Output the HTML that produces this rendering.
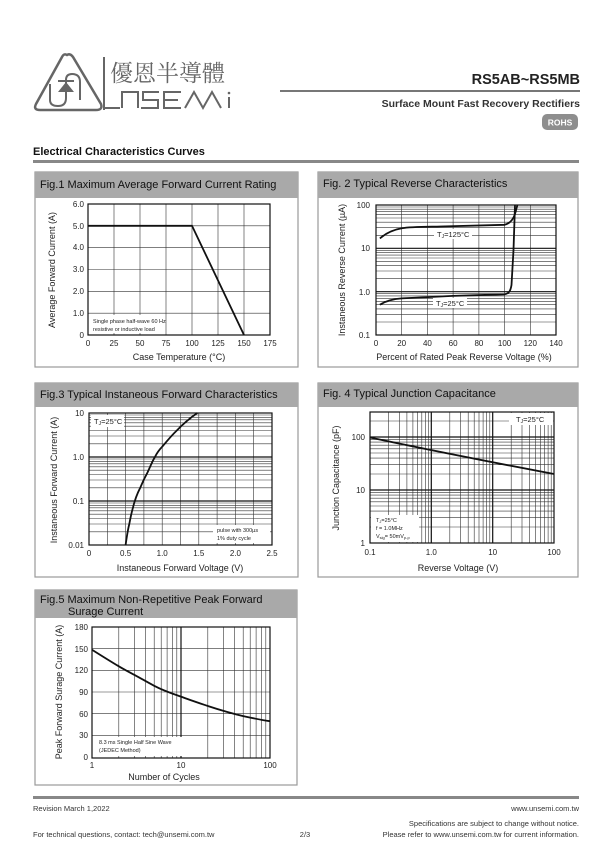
<!DOCTYPE html>
<html><head><meta charset="utf-8"><style>
html,body{margin:0;padding:0;background:#fff;}
svg{display:block;font-family:"Liberation Sans",Arial,sans-serif;}
.t{font-size:8px;fill:#222}
.ax{font-size:9px;fill:#222}
.ft{font-size:11px;fill:#111}
.g{stroke:#333;stroke-width:0.6;fill:none}
.G{stroke:#111;stroke-width:1.2;fill:none}
.c{stroke:#111;stroke-width:1.8;fill:none}
.box{fill:#fff;stroke:#9a9a9a;stroke-width:1.2}
.hd{fill:#a9a9a9}
.sm{font-size:5.5px;fill:#222}
</style></head><body>
<svg width="612" height="859" viewBox="0 0 612 859" xmlns="http://www.w3.org/2000/svg">
<path d="M67 55 Q70 53 73 57 L101 104 Q103 110 96 110 L40 110 Q33 110 36 104 L62 57 Q64 53 67 55 Z" fill="none" stroke="#666" stroke-width="2.5"/>
<path d="M50 84 L50 100 Q50 106 58 106 Q66 106 66 98 L66 80 Q66 74 72 74 Q80 74 80 82 L80 100" fill="none" stroke="#666" stroke-width="2"/>
<path d="M58 92 L74 92 L66 82 Z" fill="#666"/><path d="M58 81 L74 81" stroke="#666" stroke-width="2"/>
<path d="M104 57 L104 110" stroke="#666" stroke-width="2"/>
<text x="110" y="81" style="font-family:'Noto Serif CJK SC','Noto Sans CJK SC',serif;font-size:23px;fill:#666">優恩半導體</text>
<g fill="none" stroke="#666" stroke-width="2">
<path d="M104 108 L120 108"/>
<path d="M122 108 L122 92 L138 92 L138 108"/>
<path d="M159 92 L143 92 L143 100 L158 100 L158 108 L141 108"/>
<path d="M181 92 L164 92 L164 108 L181 108 M164 100 L178 100"/>
<path d="M185 108 L194 92 L203 108 L212 92 L221 108"/>
<path d="M229 97 L229 108"/>
</g>
<circle cx="229" cy="93" r="1.3" fill="#666"/>
<text x="580" y="84" text-anchor="end" style="font-size:14.5px;font-weight:bold;fill:#222">RS5AB~RS5MB</text>
<rect x="280" y="90" width="300" height="2" fill="#777"/>
<text x="580" y="107" text-anchor="end" style="font-size:10.5px;font-weight:bold;fill:#333">Surface Mount Fast Recovery Rectifiers</text>
<rect x="542" y="114" width="36" height="16" rx="5" fill="#8e8e8e"/>
<text x="560" y="125.5" text-anchor="middle" style="font-size:8.5px;font-weight:bold;fill:#fff">ROHS</text>
<text x="33" y="155" style="font-size:11px;font-weight:bold;fill:#111">Electrical Characteristics Curves</text>
<rect x="33" y="160" width="546" height="3" fill="#888"/>

<rect class="box" x="35" y="172" width="263" height="195"/>
<rect class="hd" x="35" y="172" width="263" height="26"/>
<text class="ft" x="40" y="188">Fig.1 Maximum Average Forward Current Rating</text>
<g class="g"><path d="M114 204V335M140 204V335M166 204V335M192 204V335M218 204V335M244 204V335M88 225.8H270M88 247.7H270M88 269.5H270M88 291.3H270M88 313.2H270"/></g>
<rect x="88" y="204" width="182" height="131" class="G"/>
<rect x="90" y="315" width="62" height="18" fill="#fff"/>
<text class="sm" x="93" y="323">Single phase half-wave 60 Hz</text>
<text class="sm" x="93" y="331">resistive or inductive load</text>
<path class="c" d="M88 225.8 L192 225.8 L244 335"/>
<g class="t" text-anchor="end"><text x="84" y="207">6.0</text><text x="84" y="229">5.0</text><text x="84" y="250">4.0</text><text x="84" y="272">3.0</text><text x="84" y="294">2.0</text><text x="84" y="316">1.0</text><text x="84" y="338">0</text></g>
<g class="t" text-anchor="middle"><text x="88" y="346">0</text><text x="114" y="346">25</text><text x="140" y="346">50</text><text x="166" y="346">75</text><text x="192" y="346">100</text><text x="218" y="346">125</text><text x="244" y="346">150</text><text x="270" y="346">175</text></g>
<text class="ax" x="179" y="360" text-anchor="middle">Case Temperature (°C)</text>
<text class="ax" transform="translate(55,270) rotate(-90)" text-anchor="middle">Average Forward Current  (A)</text>

<rect class="box" x="318" y="172" width="260" height="195"/>
<rect class="hd" x="318" y="172" width="260" height="26"/>
<text class="ft" x="323" y="187">Fig. 2 Typical Reverse Characteristics</text>
<g class="g"><path d="M401.7 205V335M427.4 205V335M453.1 205V335M478.9 205V335M504.6 205V335M530.3 205V335
M376 322H556M376 314.3H556M376 308.9H556M376 304.7H556M376 301.3H556M376 298.4H556M376 295.9H556M376 293.7H556
M376 278.7H556M376 271H556M376 265.6H556M376 261.4H556M376 258H556M376 255.1H556M376 252.6H556M376 250.4H556
M376 235.3H556M376 227.6H556M376 222.2H556M376 218H556M376 214.6H556M376 211.7H556M376 209.2H556M376 207H556"/></g>
<path class="G" d="M376 291.7H556M376 248.3H556"/>
<rect x="376" y="205" width="180" height="130" class="G"/>
<path class="c" d="M379.9 238.4 C385 234 392 230 401.7 228.3 S430 226.8 440.3 226.5 L504.6 224.8 C510 223.5 513 220 515 214 L517.4 205"/>
<path class="c" d="M379.9 304.7 C386 301 393 299 401.7 298.4 L453.1 295.9 L504.6 294.3 C509 293.5 510.5 291 511.5 285 L513.5 250 L515 205"/>
<rect x="434" y="229" width="38" height="10" fill="#fff"/>
<text x="437" y="237" style="font-size:7.5px;fill:#222">T<tspan font-size="5" dy="1">J</tspan><tspan dy="-1">=125°C</tspan></text>
<rect x="433" y="298" width="34" height="10" fill="#fff"/>
<text x="436" y="306" style="font-size:7.5px;fill:#222">T<tspan font-size="5" dy="1">J</tspan><tspan dy="-1">=25°C</tspan></text>
<g class="t" text-anchor="end"><text x="370" y="208">100</text><text x="370" y="251">10</text><text x="370" y="295">1.0</text><text x="370" y="338">0.1</text></g>
<g class="t" text-anchor="middle"><text x="376" y="346">0</text><text x="401.7" y="346">20</text><text x="427.4" y="346">40</text><text x="453.1" y="346">60</text><text x="478.9" y="346">80</text><text x="504.6" y="346">100</text><text x="530.3" y="346">120</text><text x="556" y="346">140</text></g>
<text class="ax" x="464" y="360" text-anchor="middle">Percent of Rated  Peak Reverse Voltage (%)</text>
<text class="ax" transform="translate(345,270) rotate(-90)" text-anchor="middle">Instaneous Reverse Current (µA)</text>

<rect class="box" x="35" y="383" width="263" height="194"/>
<rect class="hd" x="35" y="383" width="263" height="24"/>
<text class="ft" x="40" y="398">Fig.3 Typical Instaneous Forward Characteristics</text>
<g class="g"><path d="M107.3 413V545M125.6 413V545M143.9 413V545M162.2 413V545M180.5 413V545M198.8 413V545M217.1 413V545M235.4 413V545M253.7 413V545
M89 531.8H272M89 524H272M89 518.5H272M89 514.2H272M89 510.8H272M89 507.8H272M89 505.3H272M89 503H272
M89 487.8H272M89 480H272M89 474.5H272M89 470.2H272M89 466.8H272M89 463.8H272M89 461.3H272M89 459H272
M89 443.8H272M89 436H272M89 430.5H272M89 426.2H272M89 422.8H272M89 419.8H272M89 417.3H272M89 415H272"/></g>
<path class="G" d="M89 457H272M89 501H272"/>
<rect x="89" y="413" width="183" height="132" class="G"/>
<rect x="91" y="415" width="33" height="12" fill="#fff"/>
<text x="94" y="424" style="font-size:7.5px;fill:#222">T<tspan font-size="5" dy="1">J</tspan><tspan dy="-1">=25°C</tspan></text>
<rect x="213" y="525" width="57" height="18" fill="#fff"/>
<text class="sm" x="217" y="532">pulse with 300µs</text>
<text class="sm" x="217" y="540">1% duty cycle</text>
<path class="c" d="M125.6 545 C127 535 128 529 129.3 524 C131 515 132 511 132.9 507.8 C135 499 137 494 140.2 487.8 C143 481 145 477 147.6 472.3 C150 467 152 462 154.9 457 C157 453 159 450 162.2 446.8 C167 441 171 436 176.8 430.5 C184 423 190 418 197.3 413"/>
<g class="t" text-anchor="end"><text x="84" y="416">10</text><text x="84" y="460">1.0</text><text x="84" y="504">0.1</text><text x="84" y="548">0.01</text></g>
<g class="t" text-anchor="middle"><text x="89" y="556">0</text><text x="125.6" y="556">0.5</text><text x="162.2" y="556">1.0</text><text x="198.8" y="556">1.5</text><text x="235.4" y="556">2.0</text><text x="272" y="556">2.5</text></g>
<text class="ax" x="180" y="571" text-anchor="middle">Instaneous Forward Voltage (V)</text>
<text class="ax" transform="translate(57,480) rotate(-90)" text-anchor="middle">Instaneous Forward Current (A)</text>

<rect class="box" x="318" y="383" width="260" height="194"/>
<rect class="hd" x="318" y="383" width="260" height="24"/>
<text class="ft" x="323" y="397">Fig. 4 Typical Junction Capacitance</text>
<g class="g"><path d="M388.5 412V543M399.3 412V543M406.9 412V543M412.9 412V543M417.7 412V543M421.8 412V543M425.4 412V543M428.5 412V543
M449.8 412V543M460.6 412V543M468.2 412V543M474.2 412V543M479 412V543M483.1 412V543M486.7 412V543M489.8 412V543
M511.2 412V543M522 412V543M529.6 412V543M535.6 412V543M540.4 412V543M544.5 412V543M548.1 412V543M551.2 412V543
M370 527H554M370 517.7H554M370 511.1H554M370 506H554M370 501.8H554M370 498.2H554M370 495.1H554M370 492.4H554
M370 474H554M370 464.7H554M370 458.1H554M370 453H554M370 448.8H554M370 445.2H554M370 442.1H554M370 439.4H554M370 421H554"/></g>
<path class="G" d="M431.3 412V543M492.7 412V543M370 490H554M370 437H554"/>
<rect x="370" y="412" width="184" height="131" class="G"/>
<rect x="509" y="413" width="44" height="12" fill="#fff"/>
<text x="516" y="422" style="font-size:7.5px;fill:#222">T<tspan font-size="5" dy="1">J</tspan><tspan dy="-1">=25°C</tspan></text>
<rect x="371" y="515" width="48" height="27" fill="#fff"/>
<text class="sm" x="376" y="522">T<tspan font-size="4" dy="1">J</tspan><tspan dy="-1">=25°C</tspan></text>
<text class="sm" x="376" y="530">f = 1.0MHz</text>
<text class="sm" x="376" y="538">V<tspan font-size="4" dy="1">sig</tspan><tspan dy="-1">= 50mV</tspan><tspan font-size="4" dy="1">p-p</tspan></text>
<path class="c" d="M370 437.5 C420 448 480 460 554 474"/>
<g class="t" text-anchor="end"><text x="365" y="440">100</text><text x="365" y="493">10</text><text x="365" y="546">1</text></g>
<g class="t" text-anchor="middle"><text x="370" y="555">0.1</text><text x="431.3" y="555">1.0</text><text x="492.7" y="555">10</text><text x="554" y="555">100</text></g>
<text class="ax" x="458" y="571" text-anchor="middle">Reverse  Voltage (V)</text>
<text class="ax" transform="translate(339,478) rotate(-90)" text-anchor="middle">Junction Capacitance (pF)</text>

<rect class="box" x="35" y="590" width="262" height="195"/>
<rect class="hd" x="35" y="590" width="262" height="28"/>
<text class="ft" x="40" y="603">Fig.5 Maximum Non-Repetitive Peak Forward</text>
<text class="ft" x="68" y="615">Surage Current</text>
<g class="g"><path d="M118.8 627V758M134.5 627V758M145.6 627V758M154.2 627V758M161.2 627V758M167.1 627V758M172.3 627V758M176.8 627V758
M207.8 627V758M223.5 627V758M234.6 627V758M243.2 627V758M250.2 627V758M256.1 627V758M261.3 627V758M265.8 627V758
M92 648.7H270M92 670.3H270M92 692H270M92 713.7H270M92 735.3H270"/></g>
<path class="G" d="M181 627V758"/>
<rect x="92" y="627" width="178" height="131" class="G"/>
<rect x="94" y="737" width="100" height="19" fill="#fff"/>
<text class="sm" x="99" y="744">8.3 ms Single Half Sine Wave</text>
<text class="sm" x="99" y="752">(JEDEC Method)</text>
<path class="c" d="M92 649.7 C102 656 110 661 118.8 666.3 C125 670 130 672.5 134.5 674.9 C142 679 148 682.5 154.2 685.8 C164 691 172 693.5 181 696.6 C190 700 199 703 207.8 706 C220 710 232 713.5 243.2 716.1 C252 718 261 720 270 721.2"/>
<g class="t" text-anchor="end"><text x="88" y="630">180</text><text x="88" y="652">150</text><text x="88" y="673">120</text><text x="88" y="695">90</text><text x="88" y="717">60</text><text x="88" y="738">30</text><text x="88" y="760">0</text></g>
<g class="t" text-anchor="middle"><text x="92" y="768">1</text><text x="181" y="768">10</text><text x="270" y="768">100</text></g>
<text class="ax" x="164" y="780" text-anchor="middle">Number of Cycles</text>
<text class="ax" transform="translate(62,692) rotate(-90)" text-anchor="middle">Peak Forward Surage Current (A)</text>

<rect x="33" y="796" width="546" height="3" fill="#888"/>
<g style="font-size:7.5px;fill:#333">
<text x="33" y="811">Revision March 1,2022</text>
<text x="579" y="811" text-anchor="end">www.unsemi.com.tw</text>
<text x="579" y="826" text-anchor="end">Specifications are subject to change without notice.</text>
<text x="33" y="837">For technical questions, contact: tech@unsemi.com.tw</text>
<text x="305" y="837" text-anchor="middle">2/3</text>
<text x="579" y="837" text-anchor="end">Please refer to www.unsemi.com.tw for current information.</text>
</g>
</svg>
</body></html>
